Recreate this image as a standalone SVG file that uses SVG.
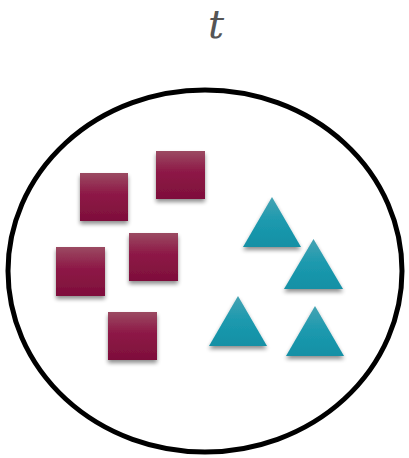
<svg xmlns="http://www.w3.org/2000/svg" width="409" height="458" viewBox="0 0 409 458">
<style>
.sq{fill:url(#gs);filter:url(#sh)}
.tr{fill:url(#gt);filter:url(#sh)}
.lbl{font-family:"DejaVu Serif","Liberation Serif",serif;font-style:italic;font-size:40px;fill:#555;text-anchor:middle}
</style>
<defs>
<linearGradient id="gs" x1="0" y1="0" x2="0" y2="1">
<stop offset="0" stop-color="#9b4a62"/>
<stop offset="0.45" stop-color="#8d1746"/>
<stop offset="1" stop-color="#7e0f3b"/>
</linearGradient>
<linearGradient id="gt" x1="0" y1="0" x2="0" y2="1">
<stop offset="0" stop-color="#45a3b3"/>
<stop offset="0.5" stop-color="#1b99ae"/>
<stop offset="1" stop-color="#1590a5"/>
</linearGradient>
<filter id="sh" x="-30%" y="-30%" width="160%" height="170%">
<feGaussianBlur in="SourceAlpha" stdDeviation="2"/>
<feOffset dx="0" dy="3" result="b"/>
<feComponentTransfer><feFuncA type="linear" slope="0.45"/></feComponentTransfer>
<feMerge><feMergeNode/><feMergeNode in="SourceGraphic"/></feMerge>
</filter>
</defs>
<rect width="409" height="458" fill="#fff"/>
<text class="lbl" x="216" y="38">t</text>
<g id="set">
<ellipse cx="205" cy="271" rx="197" ry="181" fill="none" stroke="#000" stroke-width="5"/>
</g>
<g id="squares">
<rect id="s1" class="sq" x="80" y="173" width="48" height="48"/>
<rect id="s2" class="sq" x="156" y="151" width="49" height="48"/>
<rect id="s3" class="sq" x="56" y="247" width="49" height="49"/>
<rect id="s4" class="sq" x="129" y="233" width="49" height="48"/>
<rect id="s5" class="sq" x="108" y="312" width="49" height="48"/>
</g>
<g id="triangles">
<polygon id="t1" class="tr" points="272,197 301,247 243,247"/>
<polygon id="t2" class="tr" points="313.5,239 343,289 284,289"/>
<polygon id="t3" class="tr" points="238,296 267,346 209,346"/>
<polygon id="t4" class="tr" points="315,306 344,356 286,356"/>
</g>
</svg>
